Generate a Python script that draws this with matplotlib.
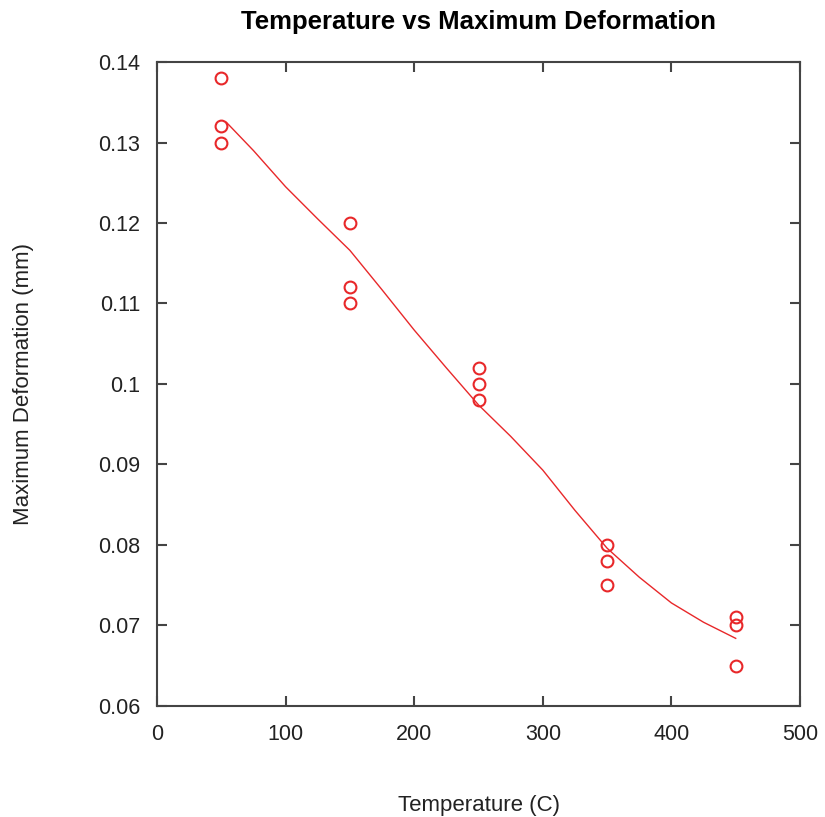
import numpy as np
import matplotlib
matplotlib.use('Agg')
import matplotlib.pyplot as plt

# measured data
temp = [50, 50, 50, 150, 150, 150, 250, 250, 250, 350, 350, 350, 450, 450, 450]
deform = [0.138, 0.132, 0.130, 0.120, 0.112, 0.110, 0.102, 0.100, 0.098,
          0.080, 0.078, 0.075, 0.071, 0.070, 0.065]

# smoothed fit curve
fit_temp = [54, 75, 100, 125, 150, 175, 200, 225, 250, 275, 300, 325, 350, 375, 400, 425, 450]
fit_def = [0.1325, 0.1290, 0.1245, 0.1205, 0.1166, 0.1117, 0.1067, 0.1020, 0.0974,
           0.0935, 0.0893, 0.0843, 0.0796, 0.0760, 0.0728, 0.0704, 0.0684]

plt.rcParams['font.family'] = ['Liberation Sans', 'DejaVu Sans']

fig = plt.figure(figsize=(8.25, 8.17), dpi=100)
ax = fig.add_axes([0.1903, 0.1359, 0.7794, 0.7882])

ax.plot(fit_temp, fit_def, color='#e8282a', lw=1.0)
ax.plot(temp, deform, 'o', mfc='none', mec='#e8282a', mew=1.5, ms=8.5)

ax.set_xlim(0, 500)
ax.set_ylim(0.06, 0.14)
ax.set_xticks([0, 100, 200, 300, 400, 500])
ax.set_yticks([0.06, 0.07, 0.08, 0.09, 0.1, 0.11, 0.12, 0.13, 0.14])
ax.set_yticklabels(['0.06', '0.07', '0.08', '0.09', '0.1', '0.11', '0.12', '0.13', '0.14'])

for s in ax.spines.values():
    s.set_color('#444444')
    s.set_linewidth(1.5)

ax.tick_params(direction='in', length=7, width=1.5, color='#444444',
               bottom=True, top=True, left=True, right=True, labelsize=15.5,
               labelcolor='#222222')
ax.tick_params(axis='y', pad=12)
ax.tick_params(axis='x', pad=13)

ax.set_xlabel('Temperature (C)', fontsize=16, labelpad=36, color='#222222')
ax.set_ylabel('Maximum Deformation (mm)', fontsize=16, labelpad=46, color='#222222')
ax.set_title('Temperature vs Maximum Deformation', fontsize=18.5, fontweight='bold', pad=24)

fig.savefig('out.png', dpi=100)
